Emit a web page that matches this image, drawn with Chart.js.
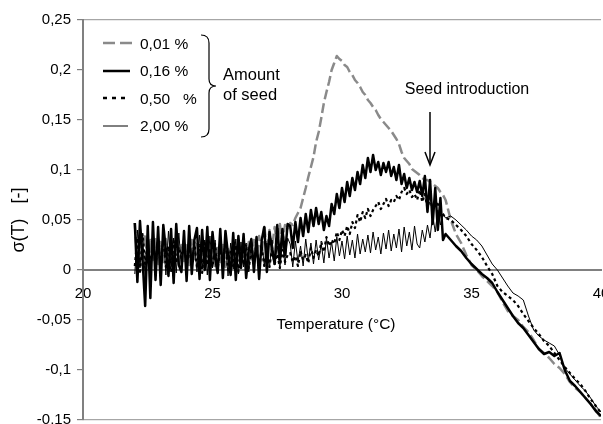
<!DOCTYPE html>
<html>
<head>
<meta charset="utf-8">
<script src="https://cdn.jsdelivr.net/npm/chart.js@4"></script>
<style>
  html, body { margin: 0; padding: 0; background: #fff; overflow: hidden; }
  #wrap { width: 603px; height: 424px; overflow: hidden; position: relative; }
  canvas { display: block; }
</style>
</head>
<body>
<div id="wrap"><canvas id="sigmaChart" width="640" height="440"></canvas></div>
<script>
// Temperature grid (°C)
const temps = [
  22.0, 22.1, 22.2, 22.3, 22.4, 22.5, 22.6, 22.7, 22.8, 22.9,
  23.0, 23.1, 23.2, 23.3, 23.4, 23.5, 23.6, 23.7, 23.8, 23.9,
  24.0, 24.1, 24.2, 24.3, 24.4, 24.5, 24.6, 24.7, 24.8, 24.9,
  25.0, 25.1, 25.2, 25.3, 25.4, 25.5, 25.6, 25.7, 25.8, 25.9,
  26.0, 26.1, 26.2, 26.3, 26.4, 26.5, 26.6, 26.7, 26.8, 26.9,
  27.0, 27.1, 27.2, 27.3, 27.4, 27.5, 27.6, 27.7, 27.8, 27.9,
  28.0, 28.1, 28.2, 28.3, 28.4, 28.5, 28.6, 28.7, 28.8, 28.9,
  29.0, 29.1, 29.2, 29.3, 29.4, 29.5, 29.6, 29.7, 29.8, 29.9,
  30.0, 30.1, 30.2, 30.3, 30.4, 30.5, 30.6, 30.7, 30.8, 30.9,
  31.0, 31.1, 31.2, 31.3, 31.4, 31.5, 31.6, 31.7, 31.8, 31.9,
  32.0, 32.1, 32.2, 32.3, 32.4, 32.5, 32.6, 32.7, 32.8, 32.9,
  33.0, 33.1, 33.2, 33.3, 33.4, 33.5, 33.6, 33.7, 33.8, 33.9,
  34.0, 34.2, 34.4, 34.6, 34.8, 35.0, 35.2, 35.4, 35.6, 35.8,
  36.0, 36.2, 36.4, 36.6, 36.8, 37.0, 37.2, 37.4, 37.6, 37.8,
  38.0, 38.2, 38.4, 38.6, 38.8, 39.0, 39.2, 39.4, 39.6, 39.8,
  40.0
];

// sigma(T), 0,01 % seed
const seed001 = [
  .047, .008, .040, .012, .035, .005, .030, .010, .032, .006,
  .028, .008, .031, .004, .027, .010, .029, .006, .025, .009,
  .027, .005, .030, .008, .026, .004, .028, .010, .024, .006,
  .026, .004, .022, .008, .025, .003, .021, .007, .024, .005,
  .023, .006, .026, .004, .028, .008, .030, .012, .034, .015,
  .045, .018, .040, .022, .043, .025, .046, .028, .045, .040,
  .047, .045, .052, .057, .062, .072, .082, .093, .103, .113,
  .128, .138, .152, .167, .178, .188, .200, .207, .214, .211,
  .209, .205, .203, .198, .195, .190, .187, .183, .178, .175,
  .170, .167, .163, .160, .155, .151, .148, .145, .142, .139,
  .135, .131, .126, .118, .112, .109, .106, .101, .099, .097,
  .095, .092, .090, .090, .088, .086, .084, .082, .078, .075,
  .070, .050, .036, .027, .015, .005, .000, -.006, -.011, -.016,
  -.022, -.032, -.041, -.046, -.050, -.057, -.062, -.070, -.079, -.083,
  -.088, -.094, -.098, -.104, -.112, -.118, -.122, -.128, -.134, -.140,
  -.148
];

// sigma(T), 0,16 % seed
const seed016 = [
  .047, -.012, .049, .010, -.036, .044, -.028, .048, -.010, .043,
  -.015, .045, .020, -.006, .041, -.013, .046, .005, -.002, .039,
  -.011, .044, -.004, .030, .042, -.009, .040, .000, .043, -.010,
  .038, .012, -.003, .041, -.008, .039, .015, -.005, .037, -.010,
  .034, .002, .036, -.008, .020, .031, -.002, .033, -.009, .030,
  .043, -.002, .038, .020, .006, .045, .010, .041, .015, .046,
  .044, .022, .048, .028, .052, .034, .056, .038, .060, .044,
  .062, .046, .058, .040, .054, .044, .066, .056, .076, .062,
  .082, .068, .088, .074, .092, .080, .098, .086, .105, .092,
  .112, .098, .115, .100, .108, .095, .107, .098, .108, .094,
  .103, .090, .105, .086, .096, .082, .092, .080, .088, .078,
  .089, .074, .094, .058, .090, .046, .082, .040, .072, .030,
  .036, .030, .024, .019, .012, .006, .001, -.004, -.008, -.013,
  -.022, -.030, -.038, -.046, -.053, -.058, -.065, -.072, -.079, -.084,
  -.082, -.086, -.083, -.100, -.111, -.116, -.122, -.128, -.134, -.141,
  -.146
];

// sigma(T), 0,50 % seed
const seed050 = [
  .004, .032, -.004, .036, .006, .027, .001, .033, .005, .026,
  .006, .031, .003, .024, -.002, .029, .007, .023, .012, .030,
  .004, .022, .006, .028, .002, .025, -.003, .027, .005, .021,
  .003, .026, .001, .023, .007, .028, .000, .020, .004, .025,
  -.002, .021, .005, .026, .002, .019, .006, .024, .000, .022,
  .004, .018, .003, .022, .006, .016, .002, .020, .008, .015,
  .017, .008, .014, .004, .019, .010, .015, .007, .022, .012,
  .020, .014, .028, .018, .033, .024, .030, .026, .038, .030,
  .040, .034, .044, .036, .048, .042, .055, .048, .058, .052,
  .061, .054, .060, .064, .068, .061, .066, .071, .064, .070,
  .068, .074, .070, .078, .082, .076, .080, .073, .076, .070,
  .080, .068, .076, .062, .072, .060, .068, .066, .060, .056,
  .052, .050, .045, .040, .034, .026, .020, .013, .004, -.004,
  -.016, -.022, -.026, -.030, -.036, -.044, -.051, -.058, -.064, -.071,
  -.076, -.083, -.090, -.097, -.103, -.109, -.114, -.121, -.129, -.136,
  -.143
];

// sigma(T), 2,00 % seed
const seed200 = [
  -.004, .040, .002, .036, -.008, .042, .004, .034, -.002, .038,
  .001, .035, -.005, .039, .003, .032, -.003, .037, .002, .033,
  -.004, .036, .004, .031, -.002, .035, .001, .030, -.005, .034,
  .002, .030, -.003, .033, .004, .029, -.006, .027, .001, .031,
  -.004, .028, .003, .025, -.002, .030, .005, .026, .000, .029,
  .004, .027, .002, .030, .006, .024, .001, .028, .005, .032,
  .026, .003, .029, .008, .024, .004, .031, .009, .027, .006,
  .030, .010, .026, .007, .032, .012, .028, .009, .033, .014,
  .029, .011, .034, .015, .030, .012, .036, .016, .031, .018,
  .035, .017, .038, .020, .033, .016, .037, .021, .040, .019,
  .036, .022, .041, .018, .043, .024, .038, .020, .044, .026,
  .022, .040, .028, .045, .032, .055, .038, .060, .045, .056,
  .052, .054, .050, .045, .040, .034, .030, .024, .015, .006,
  .000, -.008, -.016, -.023, -.026, -.030, -.046, -.060, -.066, -.070,
  -.073, -.076, -.085, -.098, -.104, -.110, -.116, -.121, -.128, -.136,
  -.142
];

const seedLabels = ['0,01 %', '0,16 %', '0,50   %', '2,00 %'];
const xTicks = [20, 25, 30, 35, 40];

const FONT = "'Liberation Sans', Arial, sans-serif";
const GREY = '#8a8a8a';

const toPoints = vals => temps.map((t, i) => ({ x: t, y: vals[i] }));

// legend, brace and the seed arrow
const annotations = {
    id: 'annotations',
    afterDraw(chart) {
        const ctx = chart.ctx;
        ctx.save();
        const seg = (x1, y1, x2, y2, color, w, dash) => {
            ctx.beginPath();
            ctx.setLineDash(dash || []);
            ctx.strokeStyle = color;
            ctx.lineWidth = w;
            ctx.moveTo(x1, y1);
            ctx.lineTo(x2, y2);
            ctx.stroke();
        };
        seg(103, 43, 132, 43, GREY, 2.5, [12, 5]);
        seg(103, 71, 130, 71, '#000', 2.5);
        seg(103, 98, 130, 98, '#000', 2.5, [4, 5]);
        seg(103, 126, 128, 126, '#000', 1);
        ctx.setLineDash([]);

        ctx.fillStyle = '#000';
        ctx.textBaseline = 'middle';
        ctx.textAlign = 'left';
        ctx.font = '15.5px ' + FONT;
        const rowsY = [45, 72, 100, 127];
        seedLabels.forEach((s, i) => ctx.fillText(s, 140, rowsY[i]));

        // brace
        ctx.beginPath();
        ctx.strokeStyle = '#000';
        ctx.lineWidth = 1.2;
        ctx.moveTo(201, 35);
        ctx.quadraticCurveTo(209, 35, 209, 43);
        ctx.lineTo(209, 79);
        ctx.quadraticCurveTo(209, 86, 216, 86);
        ctx.quadraticCurveTo(209, 86, 209, 93);
        ctx.lineTo(209, 129);
        ctx.quadraticCurveTo(209, 137, 201, 137);
        ctx.stroke();

        ctx.font = '16.5px ' + FONT;
        ctx.fillText('Amount', 223, 75);
        ctx.fillText('of seed', 223, 95);

        ctx.textAlign = 'center';
        ctx.font = '16px ' + FONT;
        ctx.fillText('Seed introduction', 467, 90);

        // arrow
        seg(430, 112, 430, 164, '#000', 1.5);
        ctx.beginPath();
        ctx.moveTo(425, 152);
        ctx.lineTo(430, 165);
        ctx.lineTo(435, 152);
        ctx.stroke();

        ctx.font = '15.5px ' + FONT;
        ctx.fillText('Temperature (°C)', 336, 325);
        ctx.restore();
    }
};

const ctx = document.getElementById('sigmaChart').getContext('2d');
const sigmaChart = new Chart(ctx, {
    type: 'line',
    data: {
        datasets: [
            { label: seedLabels[0], data: toPoints(seed001), borderColor: GREY, borderWidth: 2.5, borderDash: [10, 4], order: 3 },
            { label: seedLabels[1], data: toPoints(seed016), borderColor: '#000', borderWidth: 2.5, order: 0 },
            { label: seedLabels[2], data: toPoints(seed050), borderColor: '#000', borderWidth: 2.2, borderDash: [3, 3], order: 1 },
            { label: seedLabels[3], data: toPoints(seed200), borderColor: '#000', borderWidth: 1, order: 2 }
        ]
    },
    options: {
        responsive: false,
        animation: false,
        devicePixelRatio: 1,
        elements: {
            point: { radius: 0 },
            line: { tension: 0, borderJoinStyle: 'round', fill: false }
        },
        layout: { padding: { left: 0, right: 39, top: 20, bottom: 20 } },
        plugins: {
            legend: { display: false },
            tooltip: { enabled: false }
        },
        scales: {
            x: {
                type: 'linear',
                min: 20,
                max: 40,
                position: { y: 0 },
                afterFit: s => { s.height = 0; },
                afterBuildTicks: s => { s.ticks = xTicks.map(v => ({ value: v })); },
                grid: { display: false, drawTicks: false },
                border: { display: true, color: '#808080', width: 2 },
                ticks: {
                    padding: 15,
                    color: '#000',
                    autoSkip: false,
                    maxRotation: 0,
                    font: { family: FONT, size: 15 }
                }
            },
            y: {
                min: -0.15,
                max: 0.25,
                afterFit: s => { s.width = 83; },
                grid: {
                    color: c => (c.tick && (Math.abs(c.tick.value - 0.25) < 1e-9 || Math.abs(c.tick.value + 0.15) < 1e-9)) ? '#a6a6a6' : 'rgba(0,0,0,0)',
                    tickColor: '#808080',
                    tickLength: 6,
                    lineWidth: 1.2
                },
                border: { color: '#808080', width: 2 },
                ticks: {
                    stepSize: 0.05,
                    padding: 6,
                    color: '#000',
                    font: { family: FONT, size: 15 },
                    callback: v => String(Math.round(v * 100) / 100).replace('.', ',')
                },
                title: {
                    display: true,
                    text: 'σ(T)   [-]',
                    color: '#000',
                    font: { family: FONT, size: 18 },
                    padding: { top: 8, bottom: 0 }
                }
            }
        }
    },
    plugins: [annotations]
});
</script>
</body>
</html>
